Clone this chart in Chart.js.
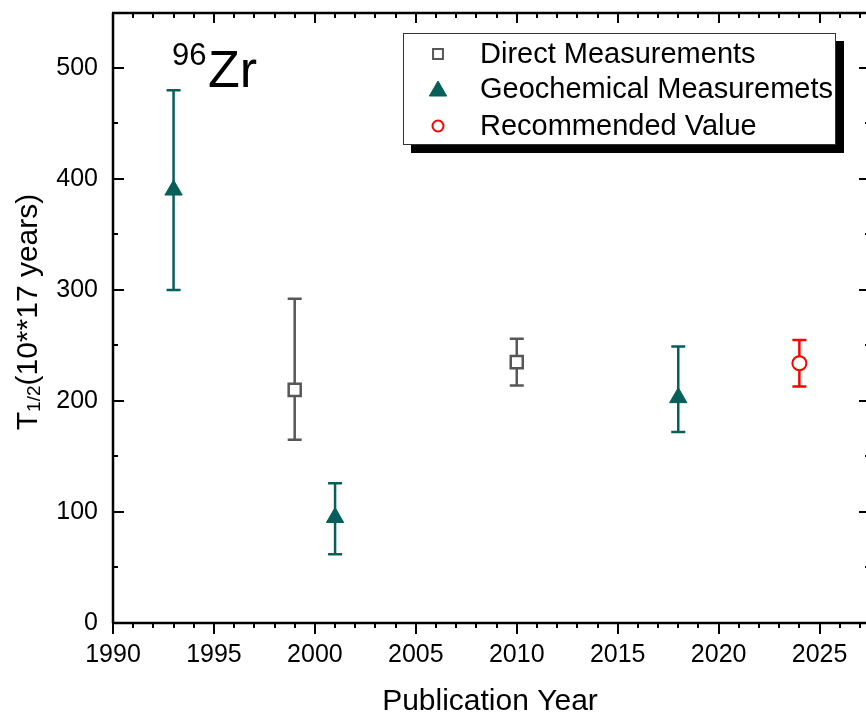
<!DOCTYPE html>
<html>
<head>
<meta charset="utf-8">
<script src="https://cdn.jsdelivr.net/npm/chart.js@4.4.0/dist/chart.umd.min.js"></script>
<style>
	html, body { margin: 0; padding: 0; background: #fff; }
	canvas { display: block; }
</style>
</head>
<body>
<canvas id="zrChart" width="866" height="718"></canvas>
<script>
// values
var directYears = [1999, 2010];
var directValues = [210, 235];
var directLow = [165, 214];
var directHigh = [292, 256];

var geoYears = [1993, 2001, 2018];
var geoValues = [390, 95, 203];
var geoLow = [300, 62, 172];
var geoHigh = [480, 126, 249];

var recYears = [2024];
var recValues = [234];
var recLow = [213];
var recHigh = [255];

var xTickYears = [1990, 1995, 2000, 2005, 2010, 2015, 2020, 2025];
var yTickValues = [0, 100, 200, 300, 400, 500];

// the plot is cut a little before its right frame (2027.5)
var X_MIN = 1990, X_MAX = 2027.3;
var Y_MIN = 0, Y_MAX = 549.5;

var GRAY = '#575757';
var TEAL = '#075f5a';
var RED = '#ff0000';
var FONT = '"Liberation Sans", Arial, Helvetica, sans-serif';

Chart.defaults.font.family = FONT;
Chart.defaults.color = '#000';

function toPoints(xs, ys) {
	return xs.map(function(x, i) { return { x: x, y: ys[i] }; });
}

var errorSets = [
	{ years: directYears, low: directLow, high: directHigh, color: GRAY },
	{ years: geoYears, low: geoLow, high: geoHigh, color: TEAL },
	{ years: recYears, low: recLow, high: recHigh, color: RED }
];

// axis frame with Origin style ticks
var framePlugin = {
	id: 'frame',
	beforeDatasetsDraw: function(chart) {
		var ctx = chart.ctx, a = chart.chartArea;
		var xs = chart.scales.x, ys = chart.scales.y;
		var frameRight = xs.getPixelForValue(2027.5);
		ctx.save();
		ctx.strokeStyle = '#000';
		ctx.lineWidth = 2.5;
		ctx.beginPath();
		ctx.moveTo(a.left, a.top);
		ctx.lineTo(a.left, a.bottom);
		ctx.moveTo(a.left - 1, a.bottom);
		ctx.lineTo(frameRight, a.bottom);
		ctx.moveTo(a.left - 1, a.top);
		ctx.lineTo(frameRight, a.top);
		ctx.stroke();

		ctx.lineWidth = 2;
		ctx.beginPath();
		for (var yr = 1990; yr <= 2027; yr++) {
			var px = Math.round(xs.getPixelForValue(yr));
			var major = yr % 5 === 0;
			// bottom: outward
			ctx.moveTo(px, a.bottom);
			ctx.lineTo(px, a.bottom + (major ? 11 : 5));
			// top: inward
			ctx.moveTo(px, a.top);
			ctx.lineTo(px, a.top + (major ? 10 : 5));
		}
		for (var v = 0; v <= 550; v += 50) {
			if (v > Y_MAX) break;
			var py = Math.round(ys.getPixelForValue(v));
			var maj = v % 100 === 0;
			ctx.moveTo(a.left, py);
			ctx.lineTo(a.left + (maj ? 11 : 5), py);
			ctx.moveTo(frameRight, py);
			ctx.lineTo(frameRight - (maj ? 11 : 5), py);
		}
		ctx.stroke();

		// error bars
		ctx.lineWidth = 2.5;
		errorSets.forEach(function(s) {
			ctx.strokeStyle = s.color;
			ctx.beginPath();
			s.years.forEach(function(yr, i) {
				var px = xs.getPixelForValue(yr);
				var lo = ys.getPixelForValue(s.low[i]);
				var hi = ys.getPixelForValue(s.high[i]);
				ctx.moveTo(px, lo); ctx.lineTo(px, hi);
				ctx.moveTo(px - 7, lo); ctx.lineTo(px + 7, lo);
				ctx.moveTo(px - 7, hi); ctx.lineTo(px + 7, hi);
			});
			ctx.stroke();
		});
		ctx.restore();
	}
};

var legendItems = [
	{ text: 'Direct Measurements', style: 'rect', radius: 7, fill: '#fff', stroke: GRAY, bw: 2 },
	{ text: 'Geochemical Measuremets', style: 'triangle', radius: 10, fill: TEAL, stroke: TEAL, bw: 1 },
	{ text: 'Recommended Value', style: 'circle', radius: 5.5, fill: '#fff', stroke: RED, bw: 2 }
];

var annotatePlugin = {
	id: 'annotate',
	afterDraw: function(chart) {
		var ctx = chart.ctx;
		ctx.save();

		// legend box with drop shadow
		ctx.fillStyle = '#000';
		ctx.fillRect(411, 41, 433, 112);
		ctx.fillStyle = '#fff';
		ctx.fillRect(403, 33, 433, 112);
		ctx.strokeStyle = '#333';
		ctx.lineWidth = 1;
		ctx.strokeRect(403.5, 33.5, 432, 111);

		var rows = [54, 89, 126];
		ctx.font = '29px ' + FONT;
		ctx.textBaseline = 'middle';
		ctx.textAlign = 'left';
		legendItems.forEach(function(it, i) {
			ctx.fillStyle = it.fill;
			ctx.strokeStyle = it.stroke;
			ctx.lineWidth = it.bw;
			Chart.helpers.drawPoint(ctx, { pointStyle: it.style, radius: it.radius, borderWidth: it.bw, rotation: 0 }, 438, rows[i] + (it.style === 'triangle' ? 2 : 0));
			ctx.fillStyle = '#000';
			ctx.fillText(it.text, 480, rows[i] + 1);
		});

		// 96Zr label
		ctx.textBaseline = 'alphabetic';
		ctx.fillStyle = '#000';
		ctx.font = '31px ' + FONT;
		ctx.fillText('96', 172, 65);
		ctx.font = '52px ' + FONT;
		ctx.fillText('Zr', 208, 87);

		// x title
		ctx.font = '30px ' + FONT;
		ctx.textAlign = 'center';
		ctx.fillText('Publication Year', 490, 710);

		// y title with subscript
		var big = '30px ' + FONT, small = '19px ' + FONT;
		ctx.font = big;
		var wT = ctx.measureText('T').width;
		var wRest = ctx.measureText('(10**17 years)').width;
		ctx.font = small;
		var wSub = ctx.measureText('1/2').width;
		var total = wT + wSub + wRest;
		ctx.translate(37, 312);
		ctx.rotate(-Math.PI / 2);
		ctx.textAlign = 'left';
		var sx = -total / 2;
		ctx.font = big;
		ctx.fillText('T', sx, 0);
		ctx.font = small;
		ctx.fillText('1/2', sx + wT, 3);
		ctx.font = big;
		ctx.fillText('(10**17 years)', sx + wT + wSub, 0);
		ctx.restore();
	}
};

function noPad(scale) {
	scale.paddingTop = 0;
	scale.paddingBottom = 0;
	scale.paddingLeft = 0;
	scale.paddingRight = 0;
}

new Chart(document.getElementById('zrChart'), {
	type: 'scatter',
	data: {
		datasets: [{
			label: 'Direct Measurements',
			data: toPoints(directYears, directValues),
			pointStyle: 'rect',
			pointRadius: 8.5,
			borderWidth: 2.5,
			borderColor: GRAY,
			backgroundColor: '#fff'
		}, {
			label: 'Geochemical Measuremets',
			data: toPoints(geoYears, geoValues),
			pointStyle: 'triangle',
			pointRadius: 10,
			borderWidth: 1,
			borderColor: TEAL,
			backgroundColor: TEAL
		}, {
			label: 'Recommended Value',
			data: toPoints(recYears, recValues),
			pointStyle: 'circle',
			pointRadius: 7,
			borderWidth: 2,
			borderColor: RED,
			backgroundColor: '#fff'
		}]
	},
	options: {
		responsive: false,
		animation: false,
		layout: { autoPadding: false, padding: { top: 13, right: 0, left: 0, bottom: 0 } },
		plugins: {
			legend: { display: false },
			tooltip: { enabled: false }
		},
		scales: {
			x: {
				type: 'linear',
				min: X_MIN,
				max: X_MAX,
				grid: { display: false, drawTicks: false },
				border: { display: false },
				afterBuildTicks: function(scale) {
					scale.ticks = xTickYears.map(function(v) { return { value: v }; });
				},
				afterFit: function(scale) { scale.height = 95; noPad(scale); },
				ticks: {
					autoSkip: false,
					maxRotation: 0,
					padding: 17,
					font: { size: 25 },
					callback: function(v) { return String(v); }
				}
			},
			y: {
				min: Y_MIN,
				max: Y_MAX,
				grid: { display: false, drawTicks: false },
				border: { display: false },
				afterBuildTicks: function(scale) {
					scale.ticks = yTickValues.map(function(v) { return { value: v }; });
				},
				afterFit: function(scale) { scale.width = 113; noPad(scale); },
				ticks: {
					padding: 15,
					font: { size: 25 },
					callback: function(v) { return String(v); }
				}
			}
		}
	},
	plugins: [framePlugin, annotatePlugin]
});
</script>
</body>
</html>
